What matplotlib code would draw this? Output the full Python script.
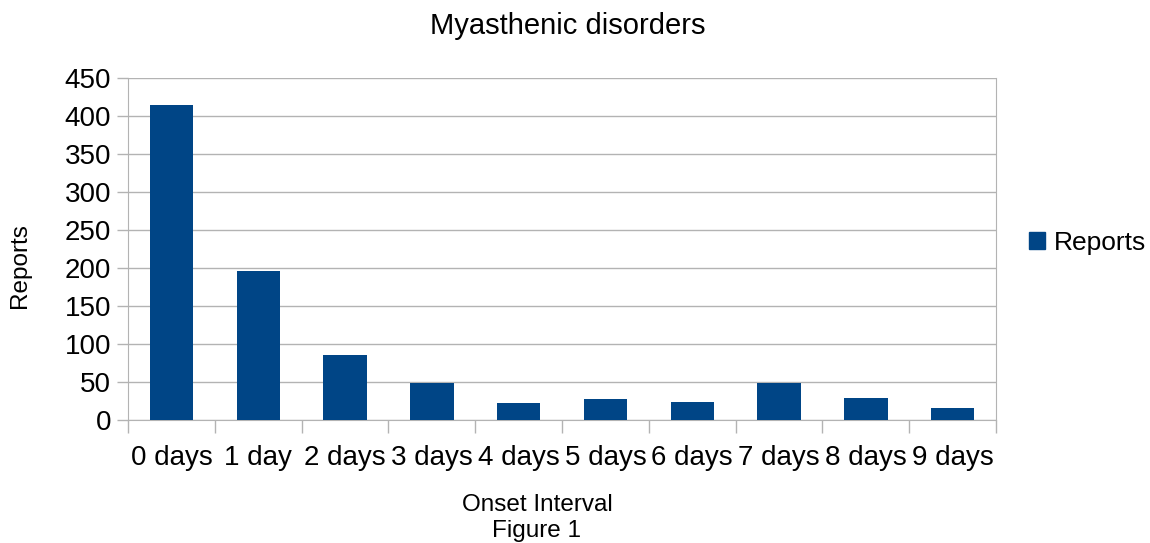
import matplotlib.pyplot as plt
from matplotlib.patches import Patch

# data
intervals = ['0 days', '1 day', '2 days', '3 days', '4 days',
             '5 days', '6 days', '7 days', '8 days', '9 days']
reports = [414, 196, 86, 49, 23, 28, 24, 49, 29, 16]
yticks = [0, 50, 100, 150, 200, 250, 300, 350, 400, 450]

plt.rcParams['font.family'] = ['Liberation Sans', 'DejaVu Sans']
grey = '#b3b3b3'

fig = plt.figure(figsize=(11.5, 5.43), dpi=100)
ax = fig.add_axes([128 / 1150, 1 - 420 / 543, 868 / 1150, 342 / 543])

x = list(range(len(intervals)))
ax.bar(x, reports, width=0.5, color='#004586', zorder=3)

ax.set_xlim(-0.5, len(intervals) - 0.5)
ax.set_ylim(0, 450)
ax.set_yticks(yticks)
ax.yaxis.grid(True, color=grey, linewidth=1, zorder=0)

# category labels between boundary ticks
ax.set_xticks([i - 0.5 for i in range(len(intervals) + 1)])
ax.set_xticklabels([])
ax.set_xticks(x, minor=True)
ax.set_xticklabels(intervals, minor=True, fontsize=20)
ax.tick_params(axis='x', which='minor', length=0, pad=18)
ax.tick_params(axis='x', which='major', length=9, color=grey, width=1)
ax.tick_params(axis='y', length=8, color=grey, width=1, labelsize=20, pad=4)

for s in ['left', 'bottom', 'right']:
    ax.spines[s].set_color(grey)
ax.spines['top'].set_visible(False)

fig.text(568 / 1150, 1 - 26 / 543, 'Myasthenic disorders', ha='center', va='center', fontsize=21)
fig.text(20 / 1150, 1 - 266 / 543, 'Reports', ha='center', va='center', rotation=90, fontsize=17.5)
fig.text(537 / 1150, 1 - 505 / 543, 'Onset Interval', ha='center', va='center', fontsize=17.5)
fig.text(537 / 1150, 1 - 531 / 543, 'Figure 1', ha='center', va='center', fontsize=17.5)

fig.legend(handles=[Patch(color='#004586', label='Reports')], loc='center left',
           bbox_to_anchor=(1029 / 1150, 1 - 243 / 543), frameon=False, fontsize=19,
           borderpad=0, borderaxespad=0,
           handlelength=0.6, handleheight=0.6, handletextpad=0.35)

plt.savefig('out.png', dpi=100)
